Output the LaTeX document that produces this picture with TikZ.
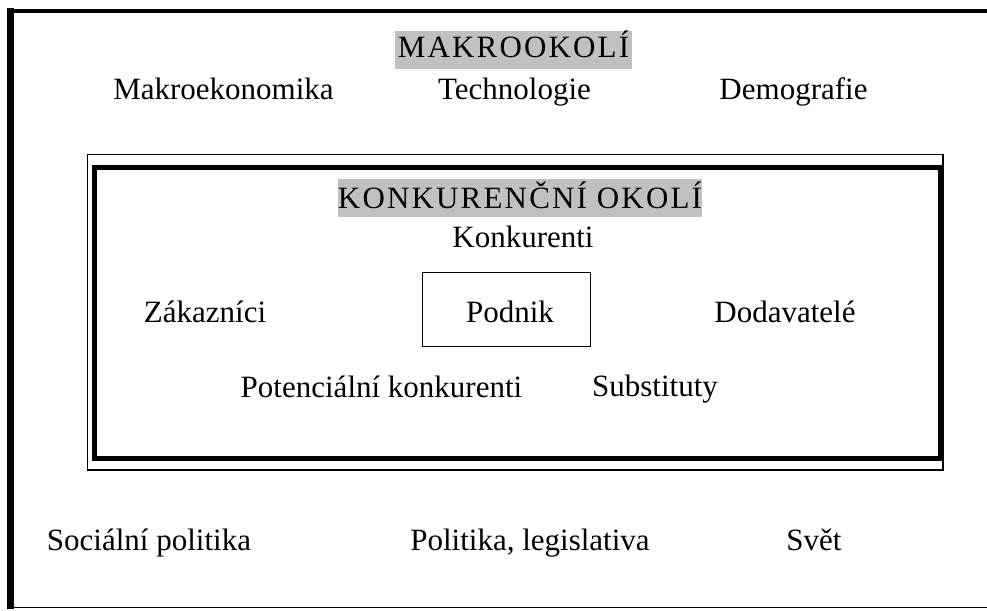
\documentclass[tikz,border=0pt]{standalone}
\usepackage{fontspec}
\setmainfont{Liberation Serif}
\newfontfamily\capsfont[LetterSpace=7]{Liberation Serif}
\definecolor{hdrgray}{RGB}{192,192,192}
\begin{document}
\begin{tikzpicture}[x=1pt,y=-1pt,
  lbl/.style={font=\fontsize{31}{36}\selectfont, inner sep=0pt, anchor=base},
  hdr/.style={font=\fontsize{31}{36}\selectfont\capsfont, inner sep=0pt, fill=hdrgray},
  thinframe/.style={draw=black, line width=1.5pt},
  thickframe/.style={draw=black, line width=5pt}]
\useasboundingbox (0,0) rectangle (987,610);
% outer frame (partially visible)
\draw[line width=7pt] (10.5,8.5) -- (10.5,608.5);
\draw[line width=4.5pt] (7,11) -- (987,11);
\draw[line width=1.5pt] (7,607.5) -- (987,607.5);
% macro environment heading and items
\node[hdr, minimum width=237pt, minimum height=38pt, text height=21pt, text depth=5pt] (makro) at (513.5,50) {MAKROOKOLÍ};
\node[lbl] (makroek) at (223.5,99) {Makroekonomika};
\node[lbl] (tech) at (514.5,99) {Technologie};
\node[lbl] (demo) at (793.5,99) {Demografie};
% competitive environment frame
\draw[thinframe] (87.5,154.5) rectangle (943,470);
\draw[thickframe] (94.5,167.5) rectangle (940.5,458.5);
\node[hdr, minimum width=364pt, minimum height=38pt, text height=22pt, text depth=2pt] (konk) at (520,198) {KONKURENČNÍ OKOLÍ};
\node[lbl] (konkurenti) at (523,247) {Konkurenti};
\node[lbl] (zak) at (205,322) {Zákazníci};
\node[draw=black, line width=1.5pt, minimum width=168pt, minimum height=74pt, inner sep=0pt,
      font=\fontsize{31}{36}\selectfont, text height=25pt, text depth=0pt] (podnik) at (506.5,309.5) {\hspace*{7pt}Podnik};
\node[lbl] (dod) at (785,322) {Dodavatelé};
\node[lbl] (pot) at (381.5,397) {Potenciální konkurenti};
\node[lbl] (sub) at (655,396) {Substituty};
% bottom row
\node[lbl] (soc) at (149,550) {Sociální politika};
\node[lbl] (pol) at (530,550) {Politika, legislativa};
\node[lbl] (svet) at (814,550) {Svět};
\end{tikzpicture}
\end{document}
